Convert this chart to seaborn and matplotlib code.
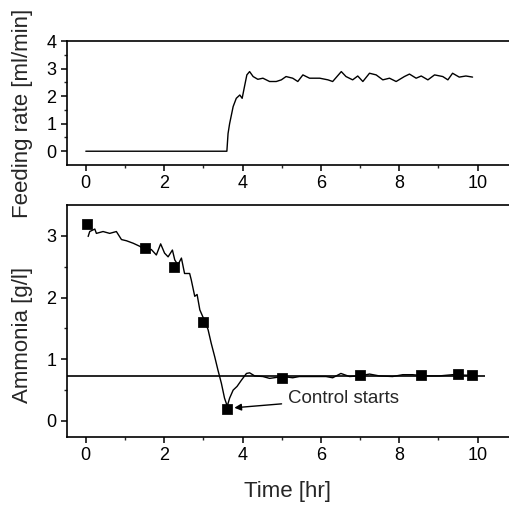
import numpy as np
import pandas as pd
import matplotlib
matplotlib.use("Agg")
import matplotlib.pyplot as plt
import seaborn as sns

# feeding rate trace (top panel)
feed_t = [0.0, 3.6, 3.63, 3.67, 3.76, 3.84, 3.93, 3.99, 4.05, 4.11, 4.18, 4.27, 4.39, 4.52,
          4.69, 4.86, 4.99, 5.11, 5.28, 5.41, 5.54, 5.71, 5.97, 6.18, 6.30, 6.52, 6.64, 6.81,
          6.94, 7.07, 7.24, 7.41, 7.58, 7.75, 7.92, 8.13, 8.26, 8.43, 8.56, 8.73, 8.90, 9.11,
          9.24, 9.36, 9.53, 9.70, 9.87]
feed_rate = [0.0, 0.0, 0.64, 1.0, 1.62, 1.92, 2.04, 1.92, 2.35, 2.77, 2.89, 2.71, 2.61, 2.65,
             2.53, 2.53, 2.59, 2.71, 2.65, 2.53, 2.77, 2.65, 2.65, 2.59, 2.53, 2.89, 2.71, 2.59,
             2.73, 2.53, 2.83, 2.77, 2.59, 2.65, 2.53, 2.71, 2.80, 2.65, 2.73, 2.59, 2.77, 2.71,
             2.59, 2.83, 2.69, 2.73, 2.69]

# online ammonia trace (bottom panel)
nh3_t = [0.06, 0.10, 0.23, 0.27, 0.44, 0.61, 0.78, 0.91, 1.04, 1.21, 1.38, 1.55, 1.67, 1.80,
         1.91, 2.01, 2.10, 2.21, 2.27, 2.35, 2.44, 2.52, 2.65, 2.69, 2.78, 2.84, 2.91, 3.04,
         3.12, 3.20, 3.29, 3.37, 3.46, 3.54, 3.61, 3.67, 3.76, 3.86, 3.97, 4.10, 4.18, 4.31,
         4.52, 4.69, 5.03, 5.28, 5.45, 5.80, 6.13, 6.30, 6.51, 6.73, 6.98, 7.24, 7.49, 7.83,
         8.09, 8.34, 8.68, 9.02, 9.36, 9.79, 9.91]
nh3_val = [2.99, 3.07, 3.11, 3.04, 3.07, 3.04, 3.07, 2.94, 2.92, 2.88, 2.83, 2.75, 2.78, 2.69,
           2.87, 2.72, 2.66, 2.77, 2.61, 2.53, 2.64, 2.39, 2.39, 2.29, 2.02, 2.05, 1.80, 1.61,
           1.48, 1.26, 1.04, 0.83, 0.61, 0.37, 0.24, 0.37, 0.50, 0.56, 0.66, 0.77, 0.78, 0.73,
           0.72, 0.69, 0.72, 0.70, 0.72, 0.72, 0.72, 0.70, 0.77, 0.72, 0.73, 0.76, 0.73, 0.72,
           0.75, 0.75, 0.73, 0.73, 0.75, 0.74, 0.74]

# offline samples
sample_t = [0.02, 1.5, 2.25, 3.0, 3.6, 5.0, 7.0, 8.55, 9.5, 9.85]
sample_val = [3.2, 2.8, 2.5, 1.6, 0.2, 0.7, 0.75, 0.74, 0.76, 0.75]

setpoint = 0.73

sns.set_style("ticks")
plt.rcParams['font.family'] = ['Liberation Sans', 'DejaVu Sans']

fig = plt.figure(figsize=(5.09, 5.07), dpi=100)
ax1 = fig.add_axes([67 / 509, 1 - 165 / 507, 1 - 67 / 509, 124 / 507])
ax2 = fig.add_axes([67 / 509, 1 - 437 / 507, 1 - 67 / 509, 232 / 507])

feed = pd.DataFrame({"t": feed_t, "rate": feed_rate})
sns.lineplot(data=feed, x="t", y="rate", ax=ax1, color="black", linewidth=1.0)

nh3 = pd.DataFrame({"t": nh3_t, "val": nh3_val})
sns.lineplot(data=nh3, x="t", y="val", ax=ax2, color="black", linewidth=1.0)
samples = pd.DataFrame({"t": sample_t, "val": sample_val})
sns.scatterplot(data=samples, x="t", y="val", ax=ax2, color="black", marker="s",
                s=45, edgecolor="black", zorder=3)
ax2.hlines(setpoint, -0.5, 10.2, color="black", linewidth=1.2)

ax2.annotate("Control starts", xy=(3.72, 0.21), xytext=(5.15, 0.36),
             fontsize=13.5, va="center", ha="left",
             arrowprops=dict(arrowstyle="-|>", color="black", lw=1.0, mutation_scale=10))

for ax in (ax1, ax2):
    ax.set_xlim(-0.48, 10.8)
    ax.set_xticks([0, 2, 4, 6, 8, 10])
    ax.set_xticks([1, 3, 5, 7, 9], minor=True)
    ax.spines["right"].set_visible(False)
    for s in ("left", "top", "bottom"):
        ax.spines[s].set_linewidth(1.2)
        ax.spines[s].set_color("black")
    ax.tick_params(which="major", length=4, width=1.1, labelsize=13, colors="black")
    ax.tick_params(which="minor", length=2.5, width=1.0)
    ax.set_facecolor("white")

ax1.set_ylim(-0.5, 4)
ax1.set_yticks([0, 1, 2, 3, 4])
ax1.set_yticks([0.5, 1.5, 2.5, 3.5], minor=True)
ax1.set_xlabel("")
ax1.set_ylabel("Feeding rate [ml/min]", fontsize=16)
ax1.yaxis.set_label_coords(-0.078, 0.42)

ax2.set_ylim(-0.26, 3.5)
ax2.set_yticks([0, 1, 2, 3])
ax2.set_yticks([0.5, 1.5, 2.5], minor=True)
ax2.set_xlabel("Time [hr]", fontsize=16)
ax2.set_ylabel("Ammonia [g/l]", fontsize=16)
ax2.yaxis.set_label_coords(-0.078, 0.44)
ax2.xaxis.set_label_coords(0.5, -0.19)

fig.savefig("out.png", dpi=100, facecolor="white")
